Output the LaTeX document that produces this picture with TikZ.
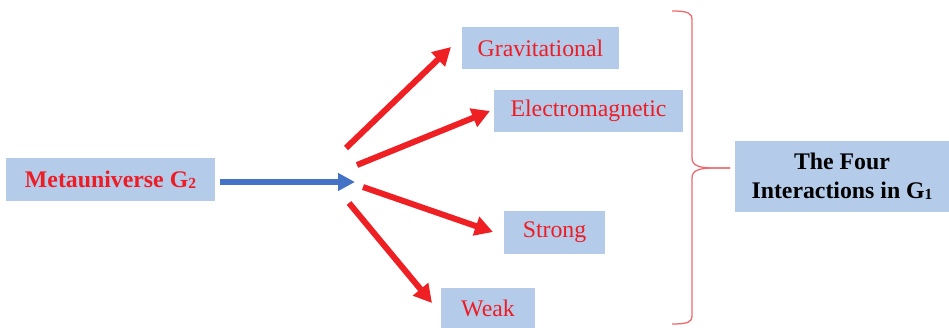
\documentclass[tikz,border=0pt]{standalone}
\usepackage{fontspec}
\setmainfont{Liberation Serif}
\usetikzlibrary{arrows.meta}
\definecolor{boxblue}{HTML}{B4CCE9}
\definecolor{txtred}{HTML}{EE1C25}
\definecolor{arrred}{HTML}{EE2024}
\definecolor{arrblue}{HTML}{4472C4}
\definecolor{bracered}{HTML}{EF6A70}
\newcommand{\subtwo}[1]{\raisebox{-1pt}{\fontsize{15.5}{15.5}\selectfont #1}}
\begin{document}
\begin{tikzpicture}[x=1pt,y=-1pt,
  boxnode/.style={fill=boxblue,draw=none,inner sep=0pt,align=center,
    font=\fontsize{23.8}{29}\selectfont},
  redtext/.style={text=txtred},
  redarrow/.style={draw=arrred,line width=6pt,-{Triangle[length=18pt,width=19pt]}},
  bluearrow/.style={draw=arrblue,line width=5.5pt,-{Triangle[length=17pt,width=17pt]}},
  bracepath/.style={draw=bracered,line width=1.3pt}
]
\useasboundingbox (0,0) rectangle (949,327);
% boxes
\node[boxnode,redtext,minimum width=209pt,minimum height=43pt,font=\fontsize{23.8}{29}\selectfont\bfseries]
  (meta) at (110.5,179.5) {Metauniverse G\subtwo{2}};
\node[boxnode,redtext,minimum width=157pt,minimum height=42pt] (grav) at (540.5,48) {Gravitational};
\node[boxnode,redtext,minimum width=189pt,minimum height=42pt] (em) at (588.5,111) {Electromagnetic};
\node[boxnode,redtext,minimum width=101pt,minimum height=43pt] (strong) at (554.5,232.5) {Strong};
\node[boxnode,redtext,minimum width=94pt,minimum height=40pt] (weak) at (488,308) {Weak};
\node[boxnode,text=black,minimum width=214pt,minimum height=71pt,font=\fontsize{23.8}{29}\selectfont\bfseries]
  (four) at (842,176.5) {The Four\\Interactions in G\subtwo{1}};
% arrow end points
\coordinate (btail) at (220,182);
\coordinate (bhead) at (355,182);
\coordinate (t1) at (346,148); \coordinate (h1) at (451,47);
\coordinate (t2) at (357,165); \coordinate (h2) at (490,111);
\coordinate (t3) at (363,187); \coordinate (h3) at (493,232);
\coordinate (t4) at (349,203); \coordinate (h4) at (432,303);
\draw[bluearrow] (btail) -- (bhead);
\draw[redarrow] (t1) -- (h1);
\draw[redarrow] (t2) -- (h2);
\draw[redarrow] (t3) -- (h3);
\draw[redarrow] (t4) -- (h4);
% brace
\coordinate (btop) at (672,11);
\coordinate (bbot) at (672,324);
\coordinate (btip) at (730,168);
\draw[bracepath] (btop) .. controls (688,11) and (692,13) .. (692,20) -- (692,158)
  .. controls (692,166) and (700,168) .. (714,168) -- (btip);
\draw[bracepath] (btip) -- (714,168) .. controls (700,168) and (692,170) .. (692,178) -- (692,316)
  .. controls (692,322) and (688,324) .. (bbot);
\end{tikzpicture}
\end{document}
